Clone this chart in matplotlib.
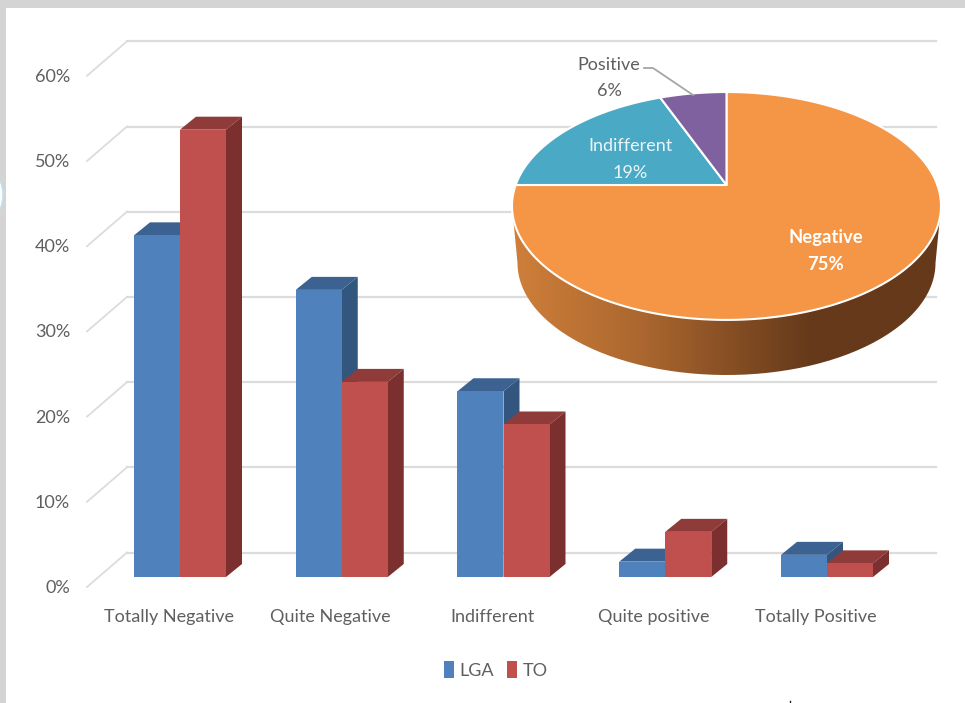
import numpy as np
import matplotlib
matplotlib.use('Agg')
import matplotlib.pyplot as plt
from matplotlib.patches import Rectangle, Ellipse
from matplotlib.path import Path
from matplotlib.patches import PathPatch
from matplotlib.transforms import Affine2D
from matplotlib.colors import LinearSegmentedColormap

plt.rcParams['font.family'] = ['Lato', 'DejaVu Sans']

# data
categories = ['Totally Negative', 'Quite Negative', 'Indifferent', 'Quite positive', 'Totally Positive']
lga = [40.1, 33.7, 21.8, 1.8, 2.6]
to = [52.5, 22.9, 17.9, 5.3, 1.6]
y_ticks = [0, 10, 20, 30, 40, 50, 60]
pie_labels = ['Negative', 'Indifferent', 'Positive']
pie_values = [75, 19, 6]

W, H = 965, 703
TEXT = '#5f5f5f'
GRID = '#dcdcdc'
FS = 13

fig = plt.figure(figsize=(W / 100, H / 100), dpi=100, facecolor='white')

# main axes fills the figure: categories on x, percent on y
ax = fig.add_axes([0, 0, 1, 1])
PX_PER_CAT = 161.75
PX_PER_PCT = 8.52
ax.set_xlim(-180 / PX_PER_CAT, (W - 180) / PX_PER_CAT)
ax.set_ylim(-(H - 577) / PX_PER_PCT, 577 / PX_PER_PCT)
ax.axis('off')

# back wall gridlines and the slanted bits on the left wall
back = ax.transData + Affine2D().translate(0, 24.5)
front = ax.transData + Affine2D().translate(0, -10)
x_wall = (127 - 180) / PX_PER_CAT
x_front = (87 - 180) / PX_PER_CAT
x_end = (936 - 180) / PX_PER_CAT
for v in y_ticks:
    ax.plot([x_wall, x_end], [v, v], color=GRID, lw=1.6, transform=back, zorder=1)
    p0 = front.transform((x_front, v))
    p1 = back.transform((x_wall, v))
    ax.plot([p0[0], p1[0]], [p0[1], p1[1]], color=GRID, lw=1.3, transform=None, zorder=1)
    ax.text(-110 / PX_PER_CAT, v, f'{v}%', ha='right', va='center', fontsize=FS, color=TEXT,
            transform=ax.transData + Affine2D().translate(0, -11))

# 3d bars: front from ax.bar, top and side polygons on top of that
BAR_W = 46 / PX_PER_CAT
DX = 16 / PX_PER_CAT
DY = 13 / PX_PER_PCT


def draw_bars(x, vals, color, top_color, side_color, label, z):
    bars = ax.bar(x, vals, width=BAR_W, color=color, label=label, zorder=z + 0.2)
    for xi, v in zip(x, vals):
        l, r = xi - BAR_W / 2, xi + BAR_W / 2
        ax.fill([l, l + DX, r + DX, r], [v, v + DY, v + DY, v], color=top_color, lw=0, zorder=z)
        ax.fill([r, r + DX, r + DX, r], [0, DY, v + DY, v], color=side_color, lw=0, zorder=z + 0.1)
    return bars


pos = np.arange(len(categories))
h1 = draw_bars(pos - BAR_W / 2, lga, '#4F81BD', '#3B6291', '#33567F', 'LGA', 3)
h2 = draw_bars(pos + BAR_W / 2, to, '#C0504D', '#8F3B39', '#7B2F2E', 'TO', 4)

for i, c in enumerate(categories):
    ax.text(i - 11 / PX_PER_CAT, -(617 - 577) / PX_PER_PCT, c, ha='center', va='center', fontsize=FS, color=TEXT)

ax.legend(handles=[h1, h2], loc='center', bbox_to_anchor=(496 / W, 1 - 670 / H), ncol=2, frameon=False,
          handlelength=0.55, handleheight=1.05, handletextpad=0.32, columnspacing=0.75,
          fontsize=13, labelcolor=TEXT)

# overlay in pixel coordinates for the pie and window frame
ov = fig.add_axes([0, 0, 1, 1], facecolor='none')
ov.set_xlim(0, W)
ov.set_ylim(H, 0)
ov.axis('off')

ov.add_patch(Rectangle((0, 0), W, 8, color='#d4d4d4', lw=0, zorder=1))
ov.add_patch(Rectangle((0, 0), 6, H, color='#d4d4d4', lw=0, zorder=1))
ov.add_patch(Ellipse((-32, 195), 70, 70, fc='white', ec='#bfe3ee', lw=1, zorder=2))
ov.plot([790, 790], [701, 703], color='#222222', lw=1, zorder=2)

# pie geometry: perspective view of a circle
CX, CY = 726.5, 206
RX, RY = 214.5, 114
K = 0.184
A = RX * np.sqrt(1 - K ** 2)
B = 110.1
APEX_Y = 185


def project(ang):
    # ang in radians clockwise from the top of the circle
    X, Y = np.sin(ang), np.cos(ang)
    w = 1 + K * Y
    return CX + A * X / w, APEX_Y - B * Y / w


# side of the pie with a left-right gradient
t = np.radians(np.linspace(180, 360, 120))
upper = np.column_stack([CX + RX * np.cos(t), CY - RY * np.sin(t)])
lower = np.column_stack([CX + 209 * np.cos(t[::-1]), 263 - 112 * np.sin(t[::-1])])
side_pts = np.vstack([upper, lower, upper[:1]])
cmap = LinearSegmentedColormap.from_list('side', [(0, '#cf7f3a'), (0.3, '#ab672f'), (0.7, '#65391a'), (1, '#65391a')])
img = ov.imshow(np.linspace(0, 1, 256)[None, :], extent=(512, 941, 376, 205), cmap=cmap, aspect='auto', zorder=3)
clip = PathPatch(Path(side_pts), transform=ov.transData, fc='none', ec='none')
ov.add_patch(clip)
img.set_clip_path(clip)
ov.set_xlim(0, W)
ov.set_ylim(H, 0)

pie_colors = ['#F49646', '#4AA9C4', '#8061A0']
start = 0.0
for val, col in zip(pie_values, pie_colors):
    end = start + val / sum(pie_values) * 2 * np.pi
    a = np.linspace(start, end, 200)
    xs, ys = project(a)
    ov.fill(np.r_[CX, xs], np.r_[APEX_Y, ys], fc=col, ec='white', lw=1.5, joinstyle='round', zorder=4)
    start = end

ov.text(826, 238, 'Negative', ha='center', va='center', fontsize=FS + 0.3, fontweight='bold', color='white', zorder=6)
ov.text(826, 265, '75%', ha='center', va='center', fontsize=FS + 0.3, fontweight='bold', color='white', zorder=6)
ov.text(630, 146, 'Indifferent', ha='center', va='center', fontsize=FS, color='#ecf6f9', zorder=6)
ov.text(630, 173, '19%', ha='center', va='center', fontsize=FS, color='#ecf6f9', zorder=6)
ov.text(609, 65, 'Positive', ha='center', va='center', fontsize=FS, color=TEXT, zorder=6)
ov.text(609, 91, '6%', ha='center', va='center', fontsize=FS, color=TEXT, zorder=6)
ov.plot([644, 653, 693], [68, 68, 95], color='#a6a6a6', lw=1.3, zorder=5)

fig.savefig('out.png', dpi=100)
